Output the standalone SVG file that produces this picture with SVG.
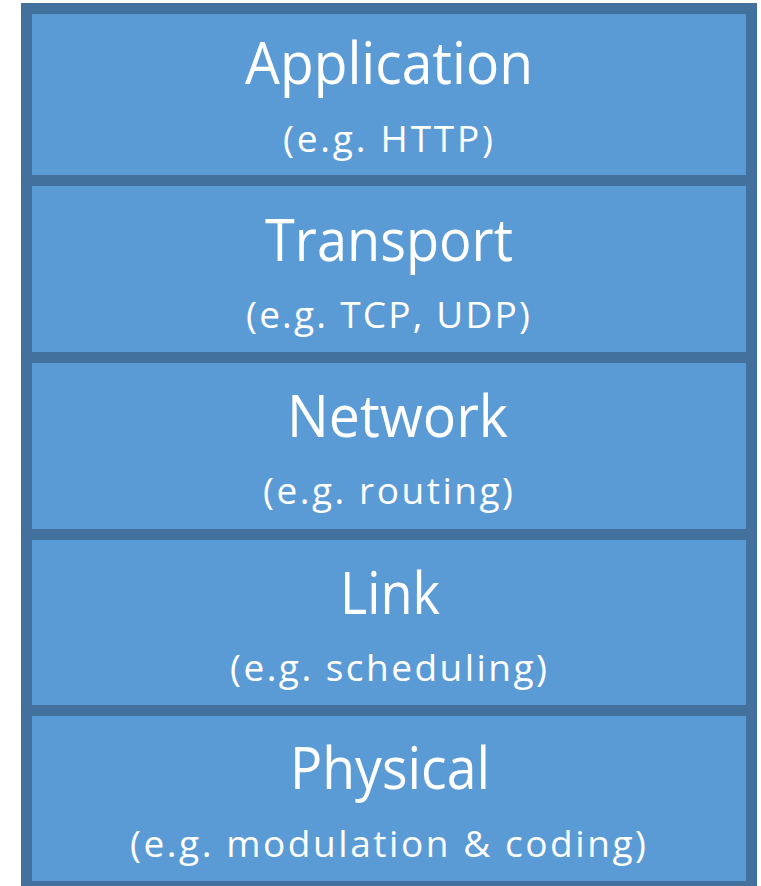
<svg xmlns="http://www.w3.org/2000/svg" width="761" height="886" viewBox="0 0 761 886">
  <style>
    .layer { fill: #5B9BD5; stroke: #41719C; stroke-width: 11; }
    .title { font-family: "Open Sans", "Noto Sans", sans-serif; font-size: 58px; fill: #FFFFFF; text-anchor: middle; }
    .sub { font-family: "Open Sans", "Noto Sans", sans-serif; font-size: 37px; fill: #FFFFFF; text-anchor: middle; }
  </style>
  <rect width="761" height="886" fill="#FFFFFF"/>

  <!-- Protocol stack, top to bottom -->
  <g id="application">
    <rect class="layer" x="26.5" y="8.5" width="725" height="172"/>
    <text class="title" x="389" y="84" textLength="288" lengthAdjust="spacingAndGlyphs">Application</text>
    <text class="sub" x="388" y="152" textLength="210" lengthAdjust="spacing">(e.g. HTTP)</text>
  </g>

  <g id="transport">
    <rect class="layer" x="26.5" y="180.5" width="725" height="177"/>
    <text class="title" x="389" y="261" textLength="248" lengthAdjust="spacingAndGlyphs">Transport</text>
    <text class="sub" x="388" y="328" textLength="284" lengthAdjust="spacing">(e.g. TCP, UDP)</text>
  </g>

  <g id="network">
    <rect class="layer" x="26.5" y="357.5" width="725" height="177"/>
    <text class="title" x="397.5" y="437" textLength="221" lengthAdjust="spacingAndGlyphs">Network</text>
    <text class="sub" x="388" y="504" textLength="250" lengthAdjust="spacing">(e.g. routing)</text>
  </g>

  <g id="link">
    <rect class="layer" x="26.5" y="534.5" width="725" height="176"/>
    <text class="title" x="390" y="614" textLength="100" lengthAdjust="spacingAndGlyphs">Link</text>
    <text class="sub" x="388.5" y="681" textLength="317" lengthAdjust="spacing">(e.g. scheduling)</text>
  </g>

  <g id="physical">
    <rect class="layer" x="26.5" y="710.5" width="725" height="176"/>
    <text class="title" x="390" y="789" textLength="200" lengthAdjust="spacingAndGlyphs">Physical</text>
    <text class="sub" x="388" y="857" textLength="516" lengthAdjust="spacing">(e.g. modulation &amp; coding)</text>
  </g>

  <g id="connectors"/>
</svg>
